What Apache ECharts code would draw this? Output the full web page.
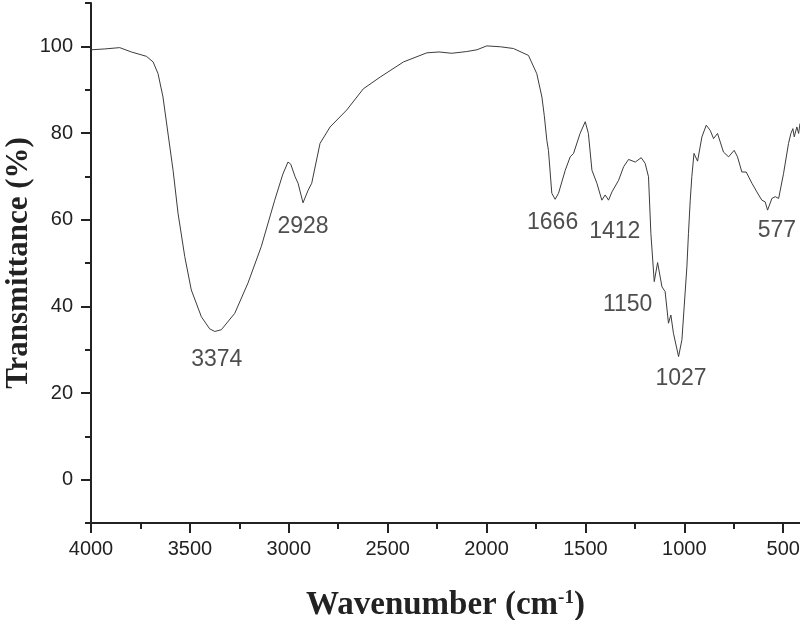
<!DOCTYPE html>
<html lang="en" style="height: 100%">

<head>
  <meta charset="utf-8">
</head>

<body style="height: 100%; margin: 0">
  <div id="container" style="width: 800px; height: 620px"></div>

  <script type="text/javascript" src="https://fastly.jsdelivr.net/npm/echarts@6.0.0/dist/echarts.min.js"></script>

  <script type="text/javascript">
    // FTIR spectrum (wavenumber descending)
    var wavenumber = [
      4000, 3930, 3855, 3796, 3720, 3686, 3661, 3636, 3611, 3585, 3560, 3526, 3493, 3442, 3400, 3374, 3341,
      3273, 3206, 3139, 3071, 3030, 3004, 2990, 2968, 2953, 2928, 2902, 2884, 2842, 2791, 2707, 2623, 2538,
      2420, 2302, 2240, 2176, 2100, 2049, 1999, 1930, 1864, 1788, 1746, 1720, 1708, 1695, 1687, 1670, 1653,
      1636, 1628, 1602, 1577, 1560, 1527, 1501, 1485, 1467, 1442, 1417, 1400, 1383, 1366, 1332, 1307, 1282,
      1248, 1218, 1198, 1181, 1169, 1152, 1135, 1113, 1097, 1080, 1068, 1055, 1029, 1012, 987, 979, 970, 962,
      951, 933, 911, 889, 869, 852, 832, 802, 776, 748, 731, 709, 687, 658, 633, 608, 591, 579, 557, 540, 523,
      498, 473, 461, 451, 444, 431, 422, 415
    ];
    var transmittance = [
      99.2, 99.4, 99.7, 98.7, 97.7, 96.4, 93.7, 88.3, 80, 71.4, 61.5, 51.5, 43.8, 37.6, 34.8, 34.2, 34.6,
      38.4, 45.4, 53.8, 64.5, 70.5, 73.3, 72.8, 69.9, 68.4, 63.9, 66.8, 68.4, 77.6, 81.4, 85.3, 90.2, 92.9,
      96.4, 98.5, 98.7, 98.4, 98.8, 99.2, 100.1, 99.9, 99.5, 97.9, 93.7, 88.3, 84, 78.3, 76, 66.1, 64.7,
      66.1, 66.1, 71.4, 74.5, 75.3, 79.9, 82.6, 79.9, 71.4, 68.4, 64.5, 65.7, 64.5, 66.4, 69.1, 72.2, 73.9,
      73.3, 74.3, 73, 69.9, 56.8, 45.7, 50.1, 44.5, 43.4, 36.1, 38, 33.8, 28.4, 32.3, 49.1, 56.8, 64.5, 69.9,
      75.3, 73.5, 79.1, 81.8, 80.6, 78.7, 79.9, 75.6, 74.5, 76, 74.5, 71, 71, 68.4, 66.4, 64.5, 64.1, 62.2, 64.9, 65.3, 64.9,
      70.7, 77.6, 79.9, 81, 79.1, 81.4, 79.9, 82.2
    ];

    var peakNames = ['3374', '2928', '1666', '1412', '1150', '1027', '577'];
    var peakWave = [3374, 2928, 1666, 1412, 1150, 1027, 577];
    var peakT = [34.2, 63.9, 64.7, 64.5, 45.7, 28.4, 62.2];

    var xMajorTicks = [500, 1000, 1500, 2000, 2500, 3000, 3500, 4000];
    var xMinorTicks = [750, 1250, 1750, 2250, 2750, 3250, 3750];
    var yMajorTicks = [0, 20, 40, 60, 80, 100];
    var yMinorTicks = [-10, 10, 30, 50, 70, 90, 110];

    // label placement relative to each peak, in pixels
    var labelOffsets = [[2, 28], [0, 24], [0, 23], [12, 31], [-27, 23], [2, 22], [9, 21]];

    var axisColor = '#222';
    var sans = 'Liberation Sans';
    var serif = 'Liberation Serif';

    var dom = document.getElementById('container');
    var myChart = echarts.init(dom, null, { renderer: 'canvas' });

    var lineData = wavenumber.map(function (w, i) { return [w, transmittance[i]]; });
    var peakData = peakNames.map(function (n, i) {
      return { name: n, value: [peakWave[i], peakT[i]], label: { offset: labelOffsets[i] } };
    });
    var plain = function (v) { return String(v); };

    function majorAxis(extra) {
      return Object.assign({
        type: 'value',
        splitLine: { show: false },
        nameMoveOverlap: false,
        axisLine: { show: true, onZero: false, lineStyle: { color: axisColor, width: 2 } }
      }, extra);
    }
    function minorAxis(extra) {
      return Object.assign({
        type: 'value',
        splitLine: { show: false },
        axisLine: { show: false, onZero: false },
        axisLabel: { show: false }
      }, extra);
    }

    var option = {
      animation: false,
      backgroundColor: '#fff',
      grid: { left: 91, right: 0, top: 3, bottom: 97, containLabel: false, outerBoundsMode: 'none' },
      xAxis: [
        majorAxis({
          inverse: true, min: 415, max: 4000, position: 'bottom',
          axisTick: { show: true, length: 10, customValues: xMajorTicks, lineStyle: { color: axisColor, width: 2 } },
          axisLabel: { customValues: xMajorTicks, formatter: plain, margin: 16, fontFamily: sans, fontSize: 20, color: axisColor },
          name: '{b|Wavenumber (cm}{s|-1}{b|)}',
          nameLocation: 'middle',
          nameGap: 66,
          nameTextStyle: {
            rich: {
              b: { fontFamily: serif, fontWeight: 'bold', fontSize: 33, color: axisColor },
              s: { fontFamily: serif, fontWeight: 'bold', fontSize: 19, color: axisColor, verticalAlign: 'top' }
            }
          }
        }),
        minorAxis({
          inverse: true, min: 415, max: 4000, position: 'bottom',
          axisTick: { show: true, length: 6, customValues: xMinorTicks, lineStyle: { color: axisColor, width: 2 } }
        })
      ],
      yAxis: [
        majorAxis({
          min: -10, max: 110, position: 'left',
          axisTick: { show: true, length: 10, customValues: yMajorTicks, lineStyle: { color: axisColor, width: 2 } },
          axisLabel: { customValues: yMajorTicks, formatter: plain, margin: 18, fontFamily: sans, fontSize: 20, color: axisColor },
          name: 'Transmittance (%)',
          nameLocation: 'middle',
          nameGap: 57,
          nameTextStyle: { fontFamily: serif, fontWeight: 'bold', fontSize: 31, color: axisColor }
        }),
        minorAxis({
          min: -10, max: 110, position: 'left',
          axisTick: { show: true, length: 6, customValues: yMinorTicks, lineStyle: { color: axisColor, width: 2 } }
        })
      ],
      series: [
        {
          type: 'line',
          data: lineData,
          showSymbol: false,
          symbol: 'none',
          lineStyle: { color: '#3c3c3c', width: 1 }
        },
        {
          type: 'scatter',
          data: peakData,
          symbolSize: 0,
          label: {
            show: true,
            position: 'inside',
            formatter: '{b}',
            fontFamily: sans,
            fontSize: 23,
            color: axisColor
          }
        }
      ]
    };

    myChart.setOption(option);
    window.addEventListener('resize', myChart.resize);
  </script>
</body>

</html>
